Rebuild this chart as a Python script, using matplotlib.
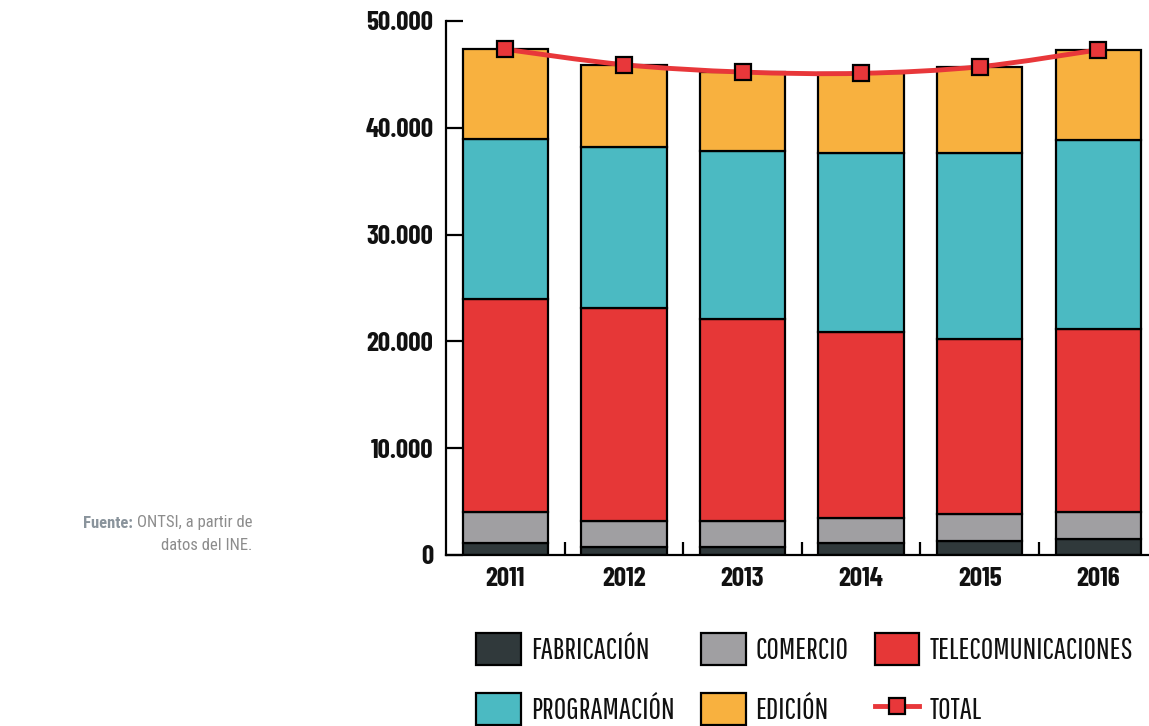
import matplotlib
matplotlib.use("Agg")
import matplotlib.pyplot as plt
from matplotlib.patches import Patch, PathPatch
from matplotlib.path import Path
from matplotlib.lines import Line2D

# ---------------- data ----------------
years = ["2011", "2012", "2013", "2014", "2015", "2016"]
fabricacion = [1100, 720, 720, 1100, 1310, 1530]
comercio = [2930, 2490, 2490, 2360, 2530, 2500]
telecomunicaciones = [19940, 19950, 18920, 17450, 16360, 17130]
programacion = [15010, 15040, 15700, 16700, 17410, 17700]
edicion = [8370, 7710, 7390, 7490, 8110, 8420]
total = [47350, 45910, 45220, 45100, 45720, 47300]
y_ticks = [0, 10000, 20000, 30000, 40000, 50000]
y_tick_labels = ["0", "10.000", "20.000", "30.000", "40.000", "50.000"]
series_names = ["FABRICACIÓN", "COMERCIO", "TELECOMUNICACIONES",
                "PROGRAMACIÓN", "EDICIÓN", "TOTAL"]

colors = ["#30393b", "#a09fa2", "#e63737", "#4bbac2", "#f8b13f"]
line_color = "#e8373a"

TICK_FONT = ["Barlow Condensed", "DejaVu Sans"]
LEG_FONT = ["Pathway Gothic One", "DejaVu Sans"]
SRC_FONT = ["Roboto Condensed", "DejaVu Sans"]

# ---------------- figure ----------------
W, H = 1149, 726
fig = plt.figure(figsize=(W / 100, H / 100), dpi=100)
ax = fig.add_axes([446 / W, 1 - 555 / H, 711.6 / W, 534 / H])

x = list(range(len(years)))
bottom = [0] * len(years)
for vals, c in zip([fabricacion, comercio, telecomunicaciones, programacion, edicion], colors):
    ax.bar(x, vals, bottom=bottom, width=0.72, color=c, edgecolor="black", linewidth=1.6, zorder=2)
    bottom = [b + v for b, v in zip(bottom, vals)]

# smooth total line (cubic Bezier through the points)
verts = [(x[0], total[0])]
codes = [Path.MOVETO]
n = len(x)
for i in range(n - 1):
    p_prev = (x[max(i - 1, 0)], total[max(i - 1, 0)])
    p0 = (x[i], total[i])
    p1 = (x[i + 1], total[i + 1])
    p_next = (x[min(i + 2, n - 1)], total[min(i + 2, n - 1)])
    c1 = (p0[0] + (p1[0] - p_prev[0]) / 6, p0[1] + (p1[1] - p_prev[1]) / 6)
    c2 = (p1[0] - (p_next[0] - p0[0]) / 6, p1[1] - (p_next[1] - p0[1]) / 6)
    verts += [c1, c2, p1]
    codes += [Path.CURVE4] * 3
ax.add_patch(PathPatch(Path(verts, codes), facecolor="none", edgecolor=line_color,
                       linewidth=3.5, zorder=3, capstyle="round"))
ax.plot(x, total, linestyle="none", marker="s", markersize=11.5,
        markerfacecolor=line_color, markeredgecolor="black", markeredgewidth=1.6, zorder=4)

ax.set_xlim(-0.5, 5.5)
ax.set_ylim(0, 50000)
ax.spines["top"].set_visible(False)
ax.spines["right"].set_visible(False)
ax.spines["left"].set_linewidth(1.6)
ax.spines["bottom"].set_linewidth(1.6)

ax.set_yticks(y_ticks)
ax.set_yticklabels(y_tick_labels)
ax.tick_params(axis="y", direction="in", length=12, width=1.6, pad=9)
ax.set_xticks(x)
ax.set_xticklabels(years)
ax.set_xticks([i + 0.5 for i in x], minor=True)
ax.tick_params(axis="x", which="major", length=0, pad=9)
ax.tick_params(axis="x", which="minor", direction="in", length=9.5, width=1.6)

for lab in ax.get_xticklabels() + ax.get_yticklabels():
    lab.set_family(TICK_FONT)
    lab.set_fontweight("bold")
    lab.set_fontsize(19.5)
    lab.set_color("#111111")

handles = [Patch(facecolor=c, edgecolor="black", linewidth=1.6) for c in colors]
handles.append(Line2D([], [], color=line_color, linewidth=3.5, marker="s", markersize=11.5,
                      markerfacecolor=line_color, markeredgecolor="black", markeredgewidth=1.6))
order = [0, 3, 1, 4, 2, 5]
leg = fig.legend([handles[i] for i in order], [series_names[i] for i in order],
                 ncol=3, loc="upper left", bbox_to_anchor=(476 / W, 1 - 633 / H),
                 frameon=False, borderpad=0, borderaxespad=0,
                 handlelength=1.47, handleheight=1.25, handletextpad=0.33,
                 labelspacing=0.9, columnspacing=0.85,
                 prop={"family": LEG_FONT, "size": 22})
for t in leg.get_texts():
    t.set_color("#111111")

src_color = "#8c8c8c"
t1 = fig.text(252 / W, 1 - 523 / H, "ONTSI, a partir de", ha="right", va="center",
              fontsize=12, color=src_color, family=SRC_FONT)
fig.canvas.draw()
bb = t1.get_window_extent()
fig.text((bb.x0 - 4) / W, 1 - 523 / H, "Fuente:", ha="right", va="center",
         fontsize=12, color="#8a949c", family=SRC_FONT, fontweight="bold")
fig.text(252 / W, 1 - 546 / H, "datos del INE.", ha="right", va="center",
         fontsize=12, color=src_color, family=SRC_FONT)

fig.savefig("out.png", dpi=100)
